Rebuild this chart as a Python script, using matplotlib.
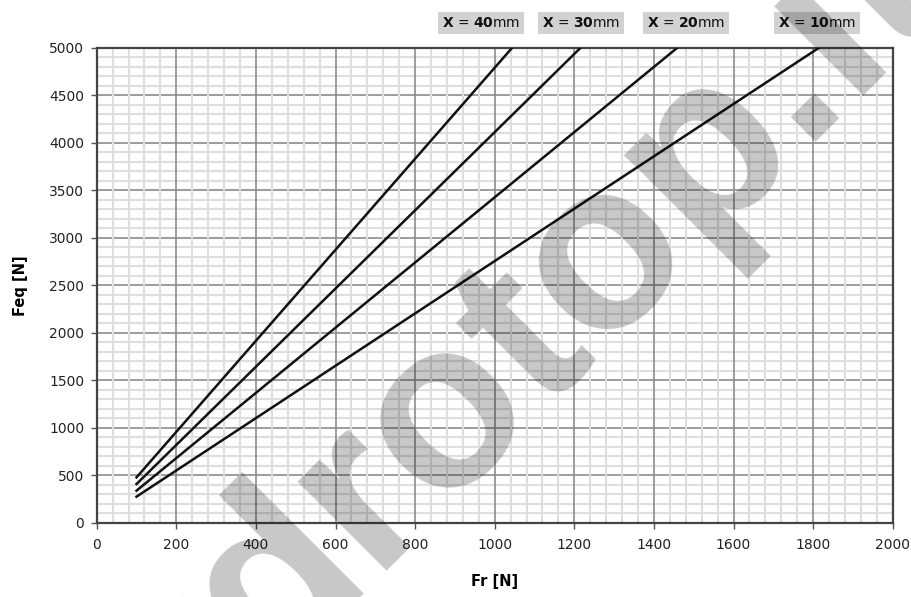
import matplotlib.pyplot as plt
from matplotlib.ticker import MultipleLocator

# Feq vs Fr, one straight line per distance X
x_values = ["40", "30", "20", "10"]
fr_x40 = [100, 1044]
feq_x40 = [477, 5000]
fr_x30 = [100, 1216]
feq_x30 = [407, 5000]
fr_x20 = [100, 1459]
feq_x20 = [337, 5000]
fr_x10 = [100, 1815]
feq_x10 = [274, 5000]

W, H = 912, 597
fig = plt.figure(figsize=(W / 100, H / 100), dpi=100)
ax = fig.add_axes([96.7 / W, 1 - 522.7 / H, 796 / W, 475 / H])

#grid: light minor, darker major
ax.set_xlim(0, 2000)
ax.set_ylim(0, 5000)
ax.xaxis.set_major_locator(MultipleLocator(200))
ax.xaxis.set_minor_locator(MultipleLocator(40))
ax.yaxis.set_major_locator(MultipleLocator(500))
ax.yaxis.set_minor_locator(MultipleLocator(100))
ax.grid(which="minor", color="#dedede", linewidth=1.5)
ax.grid(which="major", color="#8c8c8c", linewidth=1.2)
ax.yaxis.set_zorder(0.4)
ax.xaxis.set_zorder(0.6)
ax.tick_params(which="major", length=4, width=1, color="#555555",
               labelsize=10, labelcolor="#222222")
ax.tick_params(axis="x", pad=7)
ax.tick_params(axis="y", pad=5)
ax.tick_params(which="minor", length=0)
for s in ax.spines.values():
    s.set_color("#444444")
    s.set_linewidth(1.6)

for fr, feq in [(fr_x40, feq_x40), (fr_x30, feq_x30), (fr_x20, feq_x20), (fr_x10, feq_x10)]:
    ax.plot(fr, feq, color="#111111", linewidth=1.8, zorder=3)

ax.set_xlabel("Fr [N]", fontsize=10.5, fontweight="bold", labelpad=16)
ax.set_ylabel("Feq [N]", fontsize=10.5, fontweight="bold", labelpad=15)

#labels of the lines in grey boxes above the plot
label_px = [481, 581, 686, 817]
for lab, px in zip(x_values, label_px):
    fig.text(px / W, 1 - 22.7 / H, r"$\mathbf{X}$ = $\mathbf{" + lab + "}$mm",
             ha="center", va="center", fontsize=10, color="#111111",
             bbox=dict(boxstyle="square,pad=0.3", facecolor="#d2d2d2", edgecolor="none"))

#watermark
fig.text(468 / W, 1 - 386 / H, "hydrotop.it", rotation=45, rotation_mode="anchor",
         ha="center", va="center", fontsize=171, fontweight="bold", family="Liberation Sans",
         color="black", alpha=0.22, zorder=10)

fig.savefig("out.png", dpi=100)
